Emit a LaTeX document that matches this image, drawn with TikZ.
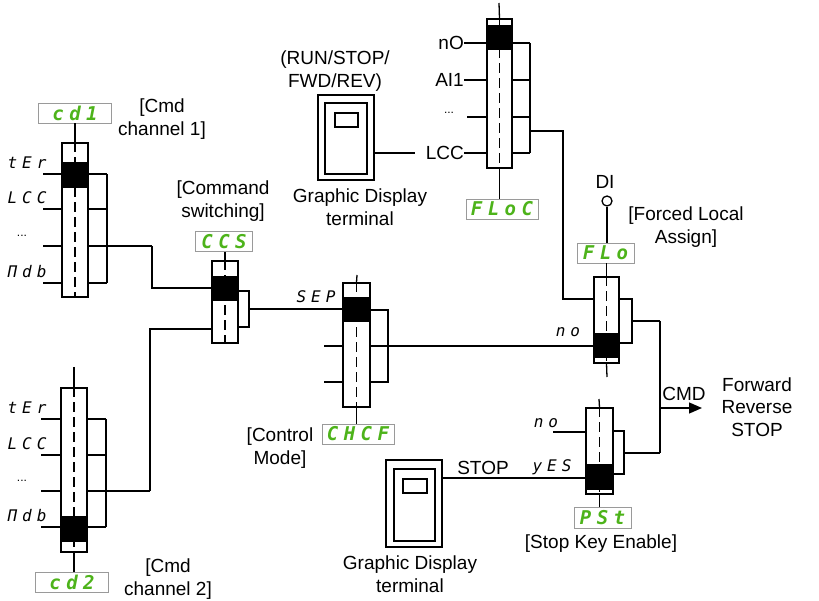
\documentclass[tikz,border=0pt]{standalone}
\usepackage{fontspec}
\setmainfont{Liberation Sans}
\newfontfamily\segfont{DejaVu Sans Mono}[LetterSpace=31]
\newfontfamily\codefont{DejaVu Sans Mono}[LetterSpace=29]
\usetikzlibrary{arrows.meta,positioning}
\definecolor{codegreen}{HTML}{4DB31A}
\definecolor{codegray}{HTML}{9A9A9A}

\begin{document}
\begin{tikzpicture}[x=1pt,y=-1pt,
    wire/.style={line width=1.3pt},
    swbody/.style={draw, line width=1.3pt, fill=white, inner sep=0pt},
    axis/.style={line width=1.3pt, dash pattern=on 10pt off 5pt},
    code/.style={draw=codegray, line width=0.9pt, inner sep=0pt,
        minimum height=20pt, text=codegreen,
        font=\fontsize{19}{19}\codefont\bfseries\itshape},
    seg/.style={inner sep=0pt, font=\fontsize{16}{16}\segfont\itshape},
    lbl/.style={align=center, inner sep=0pt,
        font=\fontsize{19}{22.5}\selectfont},
    term/.style={draw, line width=1.3pt, inner sep=0pt}
]
\useasboundingbox (0,0) rectangle (819,601);

% channel 1
\node[code, minimum width=73pt] (cd1) at (75,113) {cd1};
\node[swbody, minimum width=26pt, minimum height=154pt] (sw1) at (75,220) {};
\fill (62,162) rectangle (88,188);
\draw[wire] (cd1.south) -- (sw1.north);
\draw[axis] (sw1.north) -- (sw1.south);
\foreach \y/\t [count=\i] in {174/tEr, 209/LCC, 283/Πdb}{
    \node[seg] (a\i) at (27,\y-11) {\t};
    \draw[wire] (43,\y) coordinate (p\i) -- (p\i -| sw1.west);
    \draw[wire] (p\i -| sw1.east) -- (107,\y);
}
\node[lbl, font=\fontsize{12}{12}\selectfont] (adots) at (22,236) {...};
\draw[wire] (43,246) coordinate (p4) -- (p4 -| sw1.west);
\draw[wire] (p4 -| sw1.east) -- (152,246) coordinate (o1);
\draw[wire] (107,174) -- (107,283);
\node[lbl] (cmd1) at (162,119) {[Cmd\\channel 1]};

% channel 2
\node[code, minimum width=73pt] (cd2) at (72,582) {cd2};
\node[swbody, minimum width=26pt, minimum height=164pt] (sw2) at (74,470) {};
\fill (61,516) rectangle (87,542);
\draw[wire] (74,367) -- (sw2.north);
\draw[wire] (sw2.south) -- (cd2.north -| sw2.south);
\draw[axis] (sw2.north) -- (sw2.south);
\foreach \y/\t [count=\i] in {419/tEr, 455/LCC, 527/Πdb}{
    \node[seg] (b\i) at (27,\y-11) {\t};
    \draw[wire] (41,\y) coordinate (q\i) -- (q\i -| sw2.west);
    \draw[wire] (q\i -| sw2.east) -- (106,\y);
}
\node[lbl, font=\fontsize{12}{12}\selectfont] (bdots) at (22,481) {...};
\draw[wire] (41,491) coordinate (q4) -- (q4 -| sw2.west);
\draw[wire] (q4 -| sw2.east) -- (150,491) coordinate (o2);
\draw[wire] (106,419) -- (106,527);
\node[lbl] (cmd2) at (168,579) {[Cmd\\channel 2]};

% command switching
\node[lbl] (cmdsw) at (223,201) {[Command\\switching]};
\node[code, minimum width=57pt] (ccs) at (224,241.5) {CCS};
\node[swbody, minimum width=26pt, minimum height=82pt] (swccs) at (225,302) {};
\fill (212,276) rectangle (238,301);
\draw[wire] (ccs.south -| swccs.north) -- (swccs.north);
\draw[axis] (swccs.north) -- (swccs.south);
\draw[wire] (o1) -- (o1 |- 0,288) -- (swccs.west |- 0,288);
\draw[wire] (o2) -- (o2 |- 0,329) -- (swccs.west |- 0,329);
\draw[wire] (swccs.east |- 0,291) -- (249,291) -- (249,327) -- (swccs.east |- 0,327);
\coordinate (occs) at (249,309);

% control mode
\node[swbody, minimum width=27pt, minimum height=124pt] (swch) at (356.5,345) {};
\fill (343,297) rectangle (370,322);
\node[code, minimum width=72pt] (chcf) at (358,434) {CHCF};
\draw[wire] (357,275) -- (swch.north);
\draw[wire] (swch.south) -- (chcf.north -| swch.south);
\draw[axis] (swch.north) -- (swch.south);
\node[seg] (sep) at (316,297) {SEP};
\draw[wire] (occs) -- (swch.west |- occs);
\draw[wire] (324,346) coordinate (c2) -- (c2 -| swch.west);
\draw[wire] (324,382) coordinate (c3) -- (c3 -| swch.west);
\draw[wire] (swch.east |- 0,310) -- (388,310) -- (388,382) -- (swch.east |- 0,382);
\coordinate (och) at (388,346);
\draw[wire] (swch.east |- och) -- (och);
\node[lbl] (ctrl) at (280,448) {[Control\\Mode]};

% forced local
\node[swbody, minimum width=25pt, minimum height=149pt] (swfl) at (499.5,93.5) {};
\fill (487,25) rectangle (512,50);
\node[code, minimum width=72pt] (floc) at (502,209) {FLoC};
\draw[wire] (499,3) -- (swfl.north);
\draw[wire] (swfl.south) -- (floc.north -| swfl.south);
\draw[axis] (swfl.north) -- (swfl.south);
\foreach \y/\t [count=\i] in {43/nO, 80/AI1, 153/LCC}{
    \node[lbl, anchor=east] (f\i) at (464,\y) {\t};
    \draw[wire] (f\i.east) -- (f\i -| swfl.west);
    \draw[wire] (swfl.east |- f\i) -- (530,\y);
}
\node[lbl, font=\fontsize{12}{12}\selectfont] (fdots) at (449,113) {...};
\draw[wire] (467,117) coordinate (f4) -- (f4 -| swfl.west);
\draw[wire] (swfl.east |- f4) -- (530,117);
\draw[wire] (530,43) -- (530,153);

% top terminal
\node[lbl] (runstop) at (335,71) {(RUN/STOP/\\FWD/REV)};
\node[term, minimum width=56pt, minimum height=85pt] (tt) at (346,137.5) {};
\node[term, minimum width=42pt, minimum height=71pt] (tti) at (346,138.5) {};
\node[term, minimum width=23pt, minimum height=14pt] (tts) at (346.5,120) {};
\node[lbl] (ttlbl) at (360,207) {Graphic Display\\terminal};
\draw[wire] (tt.east |- f3) -- (415,153);

% forced local assign
\node[lbl] (di) at (605,182) {DI};
\node[circle, draw, line width=1.3pt, minimum size=10pt, inner sep=0pt] (dic) at (607,201) {};
\node[code, minimum width=57pt] (flo) at (605.5,253) {FLo};
\node[lbl] (fla) at (686,227) {[Forced Local\\Assign]};
\node[swbody, minimum width=25pt, minimum height=86pt] (swflo) at (606.5,320) {};
\fill (594,333) rectangle (619,358);
\draw[wire] (dic.south) -- (flo.north -| dic.south);
\draw[wire] (flo.south -| swflo.north) -- (swflo.north);
\draw[wire] (swflo.south) -- (607,377);
\draw[axis] (swflo.north) -- (swflo.south);
\draw[wire] (530,131) -- (563,131) -- (563,299) -- (swflo.west |- 0,299);
\draw[wire] (och) -- (swflo.west |- och);
\node[seg] (no1) at (568,332) {no};
\draw[wire] (swflo.east |- 0,299) -- (632,299) -- (632,343) -- (swflo.east |- 0,343);
\draw[wire] (632,321) -- (660,321) coordinate (cmdtop);

% stop key
\node[swbody, minimum width=27pt, minimum height=86pt] (swps) at (599.5,451) {};
\fill (586,464) rectangle (613,490);
\node[code, minimum width=57pt, minimum height=21pt] (pst) at (602.5,517.5) {PSt};
\draw[wire] (599,399) -- (swps.north);
\draw[wire] (swps.south) -- (pst.north -| swps.south);
\draw[axis] (swps.north) -- (swps.south);
\node[seg] (no2) at (546,423) {no};
\draw[wire] (553,432) coordinate (s1) -- (s1 -| swps.west);
\node[lbl] (ske) at (601,544) {[Stop Key Enable]};
\draw[wire] (swps.east |- 0,431) -- (624,431) -- (624,474) -- (swps.east |- 0,474);
\draw[wire] (624,453) -- (660,453) coordinate (cmdbot);

% bottom terminal
\node[term, minimum width=56pt, minimum height=87pt] (tb) at (414,503.5) {};
\node[term, minimum width=41pt, minimum height=72pt] (tbi) at (414.5,505) {};
\node[term, minimum width=24pt, minimum height=14pt] (tbs) at (415,486) {};
\node[lbl] (tblbl) at (410,574) {Graphic Display\\terminal};
\coordinate (yes) at (586,478);
\draw[wire] (tb.east |- yes) -- (yes);
\node[lbl] (stop) at (483,468) {STOP};
\node[seg] (yeslbl) at (552,467) {yES};

% output
\draw[wire] (cmdtop) -- (cmdbot);
\coordinate (out) at (702,408);
\draw[wire, -{Triangle[length=13pt, width=11pt]}] (cmdtop |- out) -- (out);
\node[lbl] (cmd) at (684,394) {CMD};
\node[lbl] (frs) at (757,407) {Forward\\Reverse\\STOP};
\end{tikzpicture}
\end{document}
